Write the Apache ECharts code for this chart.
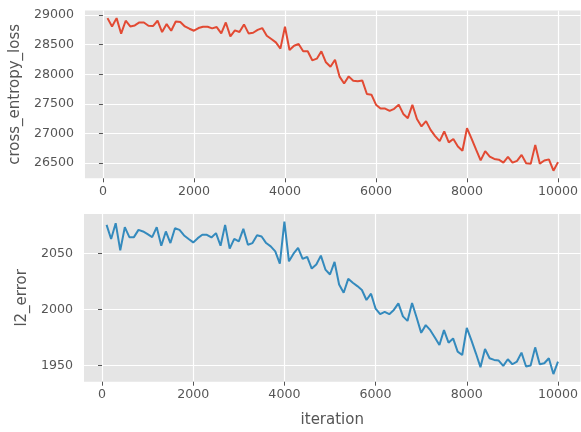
<!DOCTYPE html>
<html>
<head>
<meta charset="utf-8">
<script src="https://cdn.jsdelivr.net/npm/echarts@6/dist/echarts.min.js"></script>
<style>
html,body{margin:0;padding:0;background:#fff;}
#chart{width:581px;height:432px;}
</style>
</head>
<body>
<div id="chart"></div>
<script>
const iterations = [100,200,300,400,500,600,700,800,900,1000,1100,1200,1300,1400,1500,1600,1700,1800,1900,2000,2100,2200,2300,2400,2500,2600,2700,2800,2900,3000,3100,3200,3300,3400,3500,3600,3700,3800,3900,4000,4100,4200,4300,4400,4500,4600,4700,4800,4900,5000,5100,5200,5300,5400,5500,5600,5700,5800,5900,6000,6100,6200,6300,6400,6500,6600,6700,6800,6900,7000,7100,7200,7300,7400,7500,7600,7700,7800,7900,8000,8100,8200,8300,8400,8500,8600,8700,8800,8900,9000,9100,9200,9300,9400,9500,9600,9700,9800,9900,10000];

const crossEntropyLoss = [28949,28809,28949,28686,28905,28809,28826,28876,28876,28820,
28815,28905,28714,28848,28736,28893,28882,28809,28770,28736,
28781,28803,28803,28776,28798,28691,28876,28641,28742,28714,
28843,28691,28702,28750,28781,28652,28596,28539,28433,28803,
28410,28483,28511,28388,28390,28236,28264,28388,28202,28126,
28245,27960,27843,27965,27890,27882,27893,27667,27656,27487,
27420,27420,27380,27416,27487,27330,27258,27484,27245,27118,
27208,27060,26955,26870,27034,26849,26906,26781,26708,27090,
26914,26725,26545,26700,26608,26570,26557,26506,26602,26506,
26537,26638,26495,26486,26807,26489,26542,26562,26371,26515];

const l2Error = [2075.8,2063.1,2077.3,2053.0,2073.7,2064.8,2064.8,2071.3,2069.9,2067.5,
2064.8,2073.7,2057.1,2069.9,2059.5,2072.8,2071.3,2066.3,2063.1,2060.1,
2063.9,2066.9,2066.9,2064.5,2068.4,2057.1,2075.8,2054.5,2063.3,2061.0,
2072.2,2058.0,2059.5,2066.5,2065.4,2059.5,2056.5,2052.1,2041.1,2078.7,
2043.2,2050.0,2055.1,2045.3,2047.1,2036.7,2040.3,2048.3,2035.8,2031.4,
2042.6,2022.5,2015.1,2027.5,2024.0,2021.0,2017.5,2008.6,2014.2,2000.9,
1995.9,1997.9,1995.9,1999.7,2005.6,1993.9,1989.9,2005.9,1992.9,1979.2,
1986.1,1981.6,1975.1,1968.3,1981.6,1970.4,1974.2,1962.4,1959.4,1983.7,
1972.7,1960.9,1948.5,1964.7,1956.5,1955.0,1954.4,1949.6,1955.6,1951.1,
1953.5,1961.5,1949.1,1950.0,1966.2,1951.1,1952.0,1956.5,1942.3,1953.5];

const xTicks = [0,2000,4000,6000,8000,10000];
const lossTicks = [26500,27000,27500,28000,28500,29000];
const l2Ticks = [1950,2000,2050];

const xLabel = 'iteration';
const lossLabel = 'cross_entropy_loss';
const l2Label = 'l2_error';

const FONT = 'DejaVu Sans';
const TXT = '#555555';

function xAxisCfg(gridIndex, name) {
  return {
    type: 'value', gridIndex: gridIndex, min: -395, max: 10495,
    name: name || '', nameLocation: 'middle', nameGap: 31,
    nameTextStyle: {color: TXT, fontSize: 15, fontFamily: FONT},
    axisLine: {show: false},
    axisTick: {show: true, length: 4, customValues: xTicks, lineStyle: {color: TXT, width: 1}},
    axisLabel: {customValues: xTicks, color: TXT, fontSize: 12.6, fontFamily: FONT, margin: 7, formatter: v => String(v)},
    splitLine: {show: true, lineStyle: {color: '#ffffff', width: 1.2}}
  };
}
function yAxisCfg(gridIndex, name, min, max, ticks, gap) {
  return {
    type: 'value', gridIndex: gridIndex, min: min, max: max,
    name: name, nameLocation: 'middle', nameGap: gap,
    nameTextStyle: {color: TXT, fontSize: 15, fontFamily: FONT},
    axisLine: {show: false},
    axisTick: {show: true, length: 4, customValues: ticks, lineStyle: {color: TXT, width: 1}},
    axisLabel: {customValues: ticks, color: TXT, fontSize: 12.6, fontFamily: FONT, margin: 11, formatter: v => String(v)},
    splitLine: {show: true, lineStyle: {color: '#ffffff', width: 1.2}}
  };
}

const chart = echarts.init(document.getElementById('chart'), null, {renderer: 'canvas'});
chart.setOption({
  animation: false,
  backgroundColor: '#ffffff',
  grid: [
    {left: 84, top: 10.5, width: 497, height: 167.8, show: true, backgroundColor: '#E5E5E5', borderWidth: 0},
    {left: 84, top: 214, width: 497, height: 167.7, show: true, backgroundColor: '#E5E5E5', borderWidth: 0}
  ],
  xAxis: [xAxisCfg(0, ''), xAxisCfg(1, xLabel)],
  yAxis: [
    yAxisCfg(0, lossLabel, 26242, 29078, lossTicks, 61),
    yAxisCfg(1, l2Label, 1935.5, 2085.5, l2Ticks, 53)
  ],
  series: [
    {type: 'line', xAxisIndex: 0, yAxisIndex: 0, showSymbol: false, symbol: 'none',
     lineStyle: {color: '#E24A33', width: 2}, itemStyle: {color: '#E24A33'},
     data: iterations.map((x, i) => [x, crossEntropyLoss[i]])},
    {type: 'line', xAxisIndex: 1, yAxisIndex: 1, showSymbol: false, symbol: 'none',
     lineStyle: {color: '#348ABD', width: 2}, itemStyle: {color: '#348ABD'},
     data: iterations.map((x, i) => [x, l2Error[i]])}
  ]
});
</script>
</body>
</html>
